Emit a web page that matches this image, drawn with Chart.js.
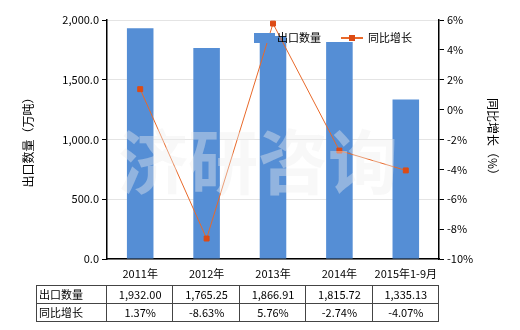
<!DOCTYPE html>
<html>
<head>
<meta charset="utf-8">
<script src="https://cdn.jsdelivr.net/npm/chart.js@4"></script>
<style>
  html, body { margin: 0; padding: 0; background: #fff; }
  #wrap { width: 520px; height: 330px; position: relative; }
</style>
</head>
<body>
<div id="wrap"><canvas id="chart" width="520" height="330"></canvas></div>
<script>
const categories = ['2011年', '2012年', '2013年', '2014年', '2015年1-9月'];
const exportQty = [1932.00, 1765.25, 1866.91, 1815.72, 1335.13];
const yoyGrowth = [1.37, -8.63, 5.76, -2.74, -4.07];
const qtyLabels = ['1,932.00', '1,765.25', '1,866.91', '1,815.72', '1,335.13'];
const growthLabels = ['1.37%', '-8.63%', '5.76%', '-2.74%', '-4.07%'];

const FONT = '"Noto Sans CJK SC", "Noto Sans", sans-serif';
const barColor = '#558ed5';
const lineColor = '#e8692a';
const pointColor = '#dd4b14';

// watermark, legend and the data table under the axis
const extras = {
    id: 'extras',
    afterDatasetsDraw(chart) {
        const ctx = chart.ctx;
        ctx.save();
        ctx.font = 'bold 70px ' + FONT;
        ctx.fillStyle = 'rgba(238,238,238,0.4)';
        ctx.textAlign = 'center';
        ctx.textBaseline = 'middle';
        ctx.fillText('济研咨询', 258, 162);
        ctx.restore();
    },
    afterDraw(chart) {
        const ctx = chart.ctx;
        const x = chart.scales.x;
        ctx.save();

        // legend
        ctx.fillStyle = barColor;
        ctx.fillRect(254, 33, 21, 10);
        ctx.font = '11px ' + FONT;
        ctx.fillStyle = '#000';
        ctx.textBaseline = 'middle';
        ctx.textAlign = 'left';
        ctx.fillText('出口数量', 277, 38);
        ctx.strokeStyle = lineColor;
        ctx.lineWidth = 2;
        ctx.beginPath();
        ctx.moveTo(341, 38);
        ctx.lineTo(363, 38);
        ctx.stroke();
        ctx.fillStyle = pointColor;
        ctx.fillRect(349, 35, 6, 6);
        ctx.fillStyle = '#000';
        ctx.fillText('同比增长', 368, 38);

        // table
        const left = 36;
        const step = (x.right - x.left) / categories.length;
        const right = x.right;
        const top = 285, mid = 303, bot = 321;
        ctx.strokeStyle = '#444';
        ctx.lineWidth = 1;
        ctx.beginPath();
        [top, mid, bot].forEach(y => {
            ctx.moveTo(left, y + 0.5);
            ctx.lineTo(right, y + 0.5);
        });
        ctx.moveTo(left + 0.5, top);
        ctx.lineTo(left + 0.5, bot + 1);
        for (let i = 0; i <= categories.length; i++) {
            const cx = Math.round(x.left + step * i) - 0.5;
            ctx.moveTo(cx, top);
            ctx.lineTo(cx, bot + 1);
        }
        ctx.stroke();

        ctx.fillStyle = '#000';
        ctx.textAlign = 'left';
        ctx.fillText('出口数量', left + 3, (top + mid) / 2 + 1);
        ctx.fillText('同比增长', left + 3, (mid + bot) / 2 + 1);
        ctx.textAlign = 'center';
        categories.forEach((c, i) => {
            const cx = x.getPixelForValue(i);
            ctx.fillText(qtyLabels[i], cx, (top + mid) / 2 + 1);
            ctx.fillText(growthLabels[i], cx, (mid + bot) / 2 + 1);
        });
        ctx.restore();
    }
};

new Chart(document.getElementById('chart'), {
    type: 'bar',
    data: {
        labels: categories,
        datasets: [
            {
                type: 'line',
                label: '同比增长',
                data: yoyGrowth,
                yAxisID: 'y1',
                borderColor: lineColor,
                borderWidth: 1,
                pointStyle: 'rect',
                pointRadius: 3.5,
                pointBackgroundColor: pointColor,
                pointBorderColor: pointColor,
                tension: 0,
                order: 0
            },
            {
                label: '出口数量',
                data: exportQty,
                yAxisID: 'y',
                backgroundColor: barColor,
                barPercentage: 0.8,
                categoryPercentage: 0.5,
                order: 1
            }
        ]
    },
    options: {
        responsive: false,
        animation: false,
        devicePixelRatio: 1,
        layout: { padding: { left: 0, right: 0, top: 20, bottom: 48 } },
        plugins: {
            legend: { display: false },
            tooltip: { enabled: false }
        },
        scales: {
            x: {
                grid: { display: false, drawTicks: true, tickLength: 5, color: '#000' },
                border: { color: '#000', width: 1.5 },
                ticks: { color: '#000', font: { family: FONT, size: 11 }, padding: 3, maxRotation: 0 },
                afterFit: s => { s.height = 23; }
            },
            y: {
                position: 'left',
                min: 0,
                max: 2000,
                grid: { color: '#e4e4e4', tickColor: '#000', tickLength: 5 },
                border: { color: '#000', width: 1.5 },
                ticks: {
                    stepSize: 500,
                    color: '#000',
                    font: { family: FONT, size: 11 },
                    padding: 3,
                    callback: v => v.toLocaleString('en-US', { minimumFractionDigits: 1, maximumFractionDigits: 1 })
                },
                title: { display: true, text: '出口数量（万吨）', color: '#000', font: { family: FONT, size: 12 }, padding: { top: 21, bottom: 0 } },
                afterFit: s => { s.width = 107; }
            },
            y1: {
                position: 'right',
                min: -10,
                max: 6,
                grid: { drawOnChartArea: false, tickColor: '#000', tickLength: 5 },
                border: { color: '#000', width: 1.5 },
                ticks: {
                    stepSize: 2,
                    color: '#000',
                    font: { family: FONT, size: 11 },
                    padding: 3,
                    callback: v => v + '%'
                },
                title: { display: true, text: '同比增长（%）', color: '#000', font: { family: FONT, size: 12 }, padding: { top: 20, bottom: 0 } },
                afterFit: s => { s.width = 81; }
            }
        }
    },
    plugins: [extras]
});
</script>
</body>
</html>
